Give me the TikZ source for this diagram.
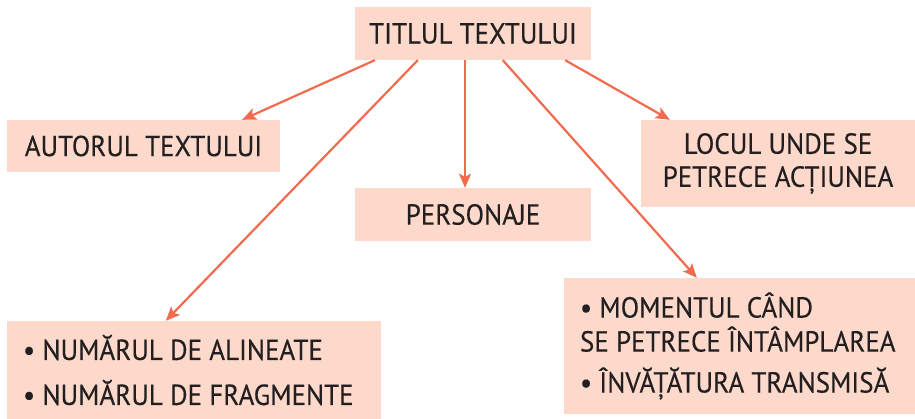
\documentclass[tikz,border=0pt]{standalone}
\usepackage{fontspec}
\setmainfont{PT Sans}[FakeStretch=0.93,FakeBold=0.3]
\usetikzlibrary{arrows.meta,calc}
\definecolor{boxfill}{HTML}{FCD9CB}
\definecolor{arrowc}{HTML}{F26B4F}
\definecolor{txt}{HTML}{231F20}
\newcommand\momline[1]{\makebox[319pt][l]{#1}}
\newcommand\numline[1]{\makebox[342pt][l]{#1}}
\begin{document}
\begin{tikzpicture}[x=1pt,y=-1pt,
  box/.style={fill=boxfill,draw=none,text=txt,font=\fontsize{29}{34}\selectfont,inner sep=0pt,align=center},
  conn/.style={draw=arrowc,line width=2.2pt,-{Stealth[length=14pt,width=12pt,inset=3pt]}}]
\useasboundingbox (0,0) rectangle (915,419);
\node[box,minimum width=236,minimum height=53] (title) at (473,33.5) {TITLUL TEXTULUI};
\node[box,minimum width=273,minimum height=52] (autor) at (143.5,146) {AUTORUL TEXTULUI};
\node[box,minimum width=236,minimum height=53] (pers) at (473,214.5) {PERSONAJE};
\node[box,minimum width=274,minimum height=87] (loc) at (778,163.5) {LOCUL UNDE SE\\[-1pt]PETRECE ACȚIUNEA};
\node[box,minimum width=351,minimum height=136,align=left] (mom) at (739.5,346)
  {\momline{• MOMENTUL CÂND}\\[0pt]\momline{SE PETRECE ÎNTÂMPLAREA}\\[7pt]\momline{• ÎNVĂȚĂTURA TRANSMISĂ}};
\node[box,minimum width=374,minimum height=98,align=left] (num) at (194,370)
  {\numline{• NUMĂRUL DE ALINEATE}\\[11pt]\numline{• NUMĂRUL DE FRAGMENTE}};
\draw[conn] ([xshift=20pt]title.south west) -- ([xshift=-38pt]autor.north east);
\draw[conn] ([xshift=63pt]title.south west) -- ([xshift=159pt]num.north west);
\draw[conn] ([xshift=-8pt]title.south) -- ([xshift=-8pt]pers.north);
\draw[conn] ([xshift=148pt]title.south west) -- ([xshift=133pt]mom.north west);
\draw[conn] ([xshift=-26pt]title.south east) -- ([xshift=29pt]loc.north west);
\end{tikzpicture}
\end{document}
